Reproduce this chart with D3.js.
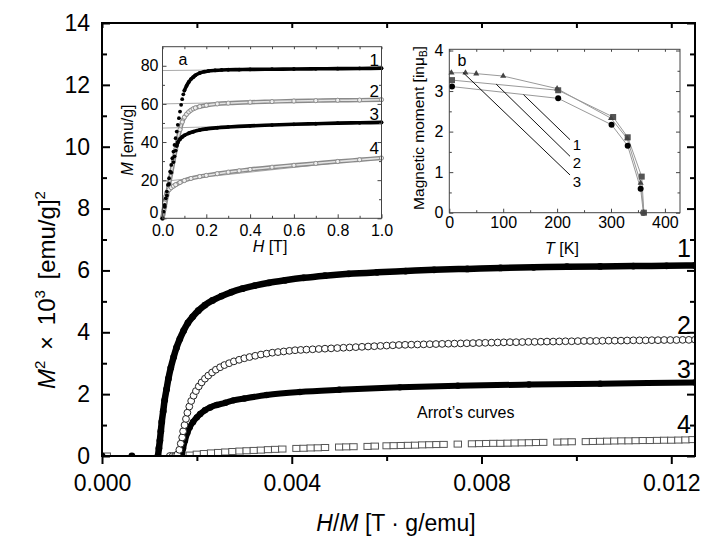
<!DOCTYPE html>
<html>
<head>
<meta charset="utf-8">
<script src="https://cdn.jsdelivr.net/npm/d3@7"></script>
<style>
  body { margin: 0; background: #fff; }
  svg { display: block; font-family: "Liberation Sans", Arial, sans-serif; }
</style>
</head>
<body>
<script>
'use strict';

// ---- main Arrott plot: H/M in 1e-4 T·g/emu, M^2 in 1e3 (emu/g)^2 ----
var c1HM = [0, 6.3, 11.8, 12.0, 12.2, 12.4, 12.6, 12.9, 13.2, 13.6, 14.0, 14.5,
  15.1, 15.7, 16.4, 17.2, 18.1, 19.1, 20.3, 21.7, 23.3, 25.2, 27.3, 29.6,
  32.2, 35.2, 38.6, 42.5, 47, 52, 58, 64, 70, 77, 84, 91, 98, 105, 112, 119, 125];
var c1M2 = [0, 0, 0, 0.25, 0.5, 0.8, 1.1, 1.45, 1.8, 2.15, 2.5, 2.85,
  3.2, 3.5, 3.78, 4.05, 4.3, 4.5, 4.7, 4.88, 5.03, 5.17, 5.3, 5.41,
  5.51, 5.6, 5.68, 5.76, 5.83, 5.89, 5.94, 5.98, 6.02, 6.05, 6.08, 6.1, 6.12, 6.13, 6.14, 6.15, 6.16];

var c2HM = [14.3, 14.9, 15.4, 15.9, 16.3, 16.6, 16.9, 17.1, 17.4, 17.7,
  18.0, 18.4, 18.8, 19.3, 19.8, 20.4, 21.0, 21.7, 22.4, 23.2,
  24.0, 24.9, 25.8, 26.8, 27.8, 28.9, 30.0, 31.1, 32.3, 33.5,
  34.7, 35.9, 37.1, 38.3, 39.5, 40.7, 41.9,
  43.1, 44.4, 45.7, 47.0, 48.3, 49.6, 50.9, 52.2, 53.5, 54.8,
  56.1, 57.4, 58.7, 60.0, 61.3, 62.6, 63.9, 65.2, 66.5, 67.8,
  69.1, 70.4, 71.7, 73.0, 74.3, 75.6, 76.9, 78.2, 79.5, 80.8,
  82.1, 83.4, 84.7, 86.0, 87.3, 88.6, 89.9, 91.2, 92.5, 93.8,
  95.1, 96.4, 97.7, 99.0, 100.3, 101.6, 102.9, 104.2, 105.5, 106.8,
  108.1, 109.4, 110.7, 112.0, 113.3, 114.6, 115.9, 117.2, 118.5, 119.8,
  121.1, 122.4, 123.7, 125.0];
var c2M2 = [0, 0, 0, 0.05, 0.2, 0.4, 0.6, 0.8, 1.0, 1.2,
  1.4, 1.6, 1.78, 1.95, 2.1, 2.25, 2.38, 2.5, 2.6, 2.7,
  2.79, 2.87, 2.94, 3.0, 3.06, 3.11, 3.16, 3.2, 3.24, 3.28,
  3.31, 3.34, 3.36, 3.38, 3.4, 3.42, 3.43,
  3.44, 3.45, 3.46, 3.47, 3.48, 3.49, 3.50, 3.51, 3.52, 3.53,
  3.54, 3.55, 3.56, 3.57, 3.58, 3.59, 3.595, 3.60, 3.605, 3.61,
  3.615, 3.62, 3.625, 3.63, 3.635, 3.64, 3.645, 3.65, 3.655, 3.66,
  3.665, 3.67, 3.675, 3.68, 3.68, 3.685, 3.69, 3.69, 3.695, 3.70,
  3.70, 3.705, 3.71, 3.71, 3.715, 3.72, 3.72, 3.72, 3.725, 3.73,
  3.73, 3.73, 3.735, 3.74, 3.74, 3.74, 3.745, 3.745, 3.75, 3.75,
  3.75, 3.755, 3.755, 3.76];

var c3HM = [16.8, 17.1, 17.5, 18.0, 18.5, 19.2, 20, 20.7, 21.7, 22.8, 24.2,
  26, 27.7, 30, 34.7, 41.7, 50, 62.8, 75, 90, 105, 125];
var c3M2 = [0, 0.25, 0.5, 0.75, 0.93, 1.1, 1.25, 1.36, 1.48, 1.57, 1.65,
  1.72, 1.8, 1.86, 1.97, 2.07, 2.14, 2.22, 2.27, 2.31, 2.34, 2.38];

var c4HM = [1, 18.5, 20, 21.5, 23, 24.5, 26, 27.5, 29, 30.5,
  32, 33.5, 35, 36.5, 38, 41, 42.5, 44, 45.5, 47,
  50, 51.5, 53, 56, 57.5, 60, 61.5, 63, 64.5, 66,
  67.5, 69, 70.5, 72, 75, 78, 79.5, 81, 82.5, 84,
  85.5, 87, 88.5, 90, 91.5, 93, 96, 97.5, 99, 102,
  103.5, 105, 106.5, 108, 109.5, 111, 112.5, 114, 115.5, 117,
  118.5, 120, 121.5, 123, 124.5];
var c4M2 = [0, 0.03, 0.06, 0.08, 0.1, 0.115, 0.13, 0.145, 0.16, 0.17,
  0.18, 0.19, 0.205, 0.215, 0.225, 0.245, 0.25, 0.26, 0.265, 0.275,
  0.29, 0.295, 0.30, 0.31, 0.32, 0.33, 0.335, 0.34, 0.345, 0.35,
  0.36, 0.365, 0.37, 0.375, 0.385, 0.395, 0.40, 0.405, 0.41, 0.41,
  0.415, 0.42, 0.425, 0.43, 0.435, 0.44, 0.45, 0.455, 0.46, 0.465,
  0.47, 0.475, 0.48, 0.485, 0.49, 0.49, 0.495, 0.50, 0.50, 0.505,
  0.51, 0.51, 0.515, 0.52, 0.53];

var mainXTicks = [0, 0.004, 0.008, 0.012];
var mainXMinor = [0.002, 0.006, 0.010];
var mainYTicks = [0, 2, 4, 6, 8, 10, 12, 14];
var mainYMinor = [1, 3, 5, 7, 9, 11, 13];
var curveLabels = ['1', '2', '3', '4'];
var curveLabelY = [6.72, 4.25, 2.8, 1.05];

// ---- inset a: M(H) ----
var a1H = [0, 0.005, 0.01, 0.015, 0.02, 0.025, 0.03, 0.035, 0.04, 0.045, 0.05, 0.055, 0.06, 0.065,
  0.07, 0.075, 0.08, 0.085, 0.09, 0.095, 0.1, 0.11, 0.12, 0.13, 0.14, 0.15, 0.17, 0.19, 0.21, 0.24,
  0.27, 0.3, 0.35, 0.4, 0.5, 0.6, 0.7, 0.8, 0.9, 1.0];
var a1M = [0, 3.5, 7, 10.5, 14, 17.5, 21, 24.5, 28, 31.5, 35, 38.5, 42, 45.5,
  49, 52.5, 56, 59.5, 62.5, 65, 67, 69.5, 71.5, 73, 74, 75, 76.2, 76.9, 77.3, 77.6,
  77.8, 77.9, 78.0, 78.1, 78.2, 78.3, 78.4, 78.5, 78.6, 78.7];
var a2H = [0, 0.01, 0.02, 0.03, 0.04, 0.05, 0.06, 0.07, 0.08, 0.09, 0.1, 0.11, 0.12, 0.13,
  0.14, 0.15, 0.17, 0.2, 0.25, 0.3, 0.4, 0.5, 0.6, 0.7, 0.8, 0.9, 1.0];
var a2M = [0, 6, 12, 18, 24, 30, 36, 41.5, 46.5, 50.5, 53, 54.6, 55.8, 56.7,
  57.4, 57.9, 58.6, 59.3, 60, 60.4, 60.9, 61.2, 61.5, 61.7, 61.9, 62.0, 62.2];
var a3H = [0, 0.01, 0.02, 0.03, 0.04, 0.05, 0.055, 0.06, 0.065, 0.07, 0.08, 0.09, 0.1,
  0.12, 0.14, 0.17, 0.2, 0.25, 0.3, 0.4, 0.5, 0.6, 0.7, 0.8, 0.9, 1.0];
var a3M = [0, 6, 12, 18, 24, 29.5, 32.5, 35.5, 38, 39.8, 41.5, 42.7, 43.5,
  44.6, 45.4, 46.3, 46.9, 47.5, 47.9, 48.5, 48.9, 49.3, 49.6, 49.9, 50.1, 50.3];
var a4H = [0, 0.005, 0.01, 0.015, 0.02, 0.03, 0.04, 0.05, 0.06, 0.08, 0.1, 0.13,
  0.17, 0.2, 0.25, 0.3, 0.35, 0.4, 0.5, 0.6, 0.7, 0.8, 0.9, 1.0];
var a4M = [0, 4, 8, 11.5, 13.5, 15, 16.1, 16.9, 17.6, 18.8, 19.8, 20.9,
  21.9, 22.5, 23.4, 24.2, 24.9, 25.6, 26.8, 27.8, 28.8, 29.8, 30.7, 31.6];
// linear high-field fits, M at H = 0 and H = 1 T
var fitM0 = [77.5, 60, 47.3, 19.3];
var fitM1 = [78.7, 62.2, 50.3, 31.6];
var aLabelM = [83, 67, 55, 37];
var aXTicks = [0, 0.2, 0.4, 0.6, 0.8, 1.0];
var aXMinor = [0.1, 0.3, 0.5, 0.7, 0.9];
var aYTicks = [0, 20, 40, 60, 80];
var aYMinor = [10, 30, 50, 70];

// ---- inset b: moment vs T ----
var triT = [4, 30, 50, 100, 200, 300, 330, 355, 361];
var triMom = [3.45, 3.45, 3.43, 3.37, 3.06, 2.33, 1.83, 0.73, 0];
var sqT = [5, 202, 304, 331, 357, 361];
var sqMom = [3.27, 3.02, 2.36, 1.86, 0.89, 0];
var circT = [5, 202, 301, 331, 355, 360];
var circMom = [3.11, 2.82, 2.17, 1.65, 0.59, 0];
var leadStart = [[137.7, 2.91], [87, 3.17], [25.3, 3.46]];
var leadEnd = [[224, 1.8], [224, 1.39], [224, 0.93]];
var leadLabels = ['1', '2', '3'];
var leadLabelY = [1.68, 1.24, 0.77];
var bXTicks = [0, 100, 200, 300, 400];
var bXMinor = [50, 150, 250, 350];
var bYTicks = [0, 1, 2, 3, 4];
var bYMinor = [0.5, 1.5, 2.5, 3.5];

function zip(xs, ys) {
  return xs.map(function (v, i) { return [v, ys[i]]; });
}

function addAxis(g, gen, vals, size, pad, fmt, style) {
  var a = g.append('g').call(gen.tickValues(vals).tickSize(size).tickPadding(pad).tickFormat(fmt));
  a.select('.domain').remove();
  a.attr('font-family', null).attr('font-size', style.font);
  a.selectAll('.tick line').attr('stroke', style.color).attr('stroke-width', style.width);
  a.selectAll('.tick text').attr('fill', '#000');
  return a;
}

function frameAxes(g, xs, ys, o) {
  var x0 = xs.range()[0], x1 = xs.range()[1], y0 = ys.range()[0], y1 = ys.range()[1];
  var st = { font: o.font, color: o.color, width: o.width };
  var none = function () { return ''; };
  var axes = {};
  axes.bottom = addAxis(g.append('g').attr('transform', 'translate(0,' + y0 + ')'), d3.axisBottom(xs), o.xt, o.xOut ? o.big : -o.big, o.xPad, o.xFmt, st);
  addAxis(g.append('g').attr('transform', 'translate(0,' + y0 + ')'), d3.axisBottom(xs), o.xm, o.xOut ? o.small : -o.small, 0, none, st);
  addAxis(g.append('g').attr('transform', 'translate(0,' + y1 + ')'), d3.axisTop(xs), o.xt.concat(o.xm), -o.small, 0, none, st);
  axes.left = addAxis(g.append('g').attr('transform', 'translate(' + x0 + ',0)'), d3.axisLeft(ys), o.yt, -o.big, o.yPad, o.yFmt, st);
  addAxis(g.append('g').attr('transform', 'translate(' + x0 + ',0)'), d3.axisLeft(ys), o.ym, -o.small, 0, none, st);
  addAxis(g.append('g').attr('transform', 'translate(' + x1 + ',0)'), d3.axisRight(ys), o.yt, -o.big, 0, none, st);
  addAxis(g.append('g').attr('transform', 'translate(' + x1 + ',0)'), d3.axisRight(ys), o.ym, -o.small, 0, none, st);
  g.append('rect').attr('x', x0).attr('y', y1).attr('width', x1 - x0).attr('height', y0 - y1)
    .attr('fill', 'none').attr('stroke', o.color).attr('stroke-width', o.frame);
  return axes;
}

var W = 706, H = 540;
var svg = d3.select('body').append('svg').attr('width', W).attr('height', H);

// ================= main plot =================
var x = d3.scaleLinear().domain([0, 0.0125]).range([102, 695]);
var y = d3.scaleLinear().domain([0, 14]).range([456, 23]);
var hx = function (d) { return x(d[0] * 1e-4); };
var hy = function (d) { return y(d[1]); };

svg.append('clipPath').attr('id', 'mainClip').append('rect')
  .attr('x', 102).attr('y', 23).attr('width', 593).attr('height', 433);
var plot = svg.append('g').attr('clip-path', 'url(#mainClip)');

var lineMain = d3.line().x(hx).y(hy).curve(d3.curveMonotoneX);

// curve 4: open squares
plot.append('g').selectAll('rect').data(zip(c4HM, c4M2)).join('rect')
  .attr('x', function (d) { return hx(d) - 3.7; })
  .attr('y', function (d) { return hy(d) - 3; })
  .attr('width', 7.4).attr('height', 6)
  .attr('fill', '#fff').attr('stroke', '#555').attr('stroke-width', 1);

// curve 3: filled circles (dense, drawn as thick trace + dots)
var c3 = zip(c3HM, c3M2);
plot.append('path').datum(c3).attr('d', lineMain)
  .attr('fill', 'none').attr('stroke', '#000').attr('stroke-width', 6).attr('stroke-linejoin', 'round');
plot.append('g').selectAll('circle').data(c3).join('circle')
  .attr('cx', hx).attr('cy', hy).attr('r', 3.2).attr('fill', '#000');

// curve 2: open circles
plot.append('g').selectAll('circle').data(zip(c2HM, c2M2)).join('circle')
  .attr('cx', hx).attr('cy', hy).attr('r', 3.4)
  .attr('fill', '#fff').attr('stroke', '#222').attr('stroke-width', 1);

// curve 1: filled circles
var c1 = zip(c1HM, c1M2);
plot.append('path').datum(c1.filter(function (d) { return d[0] >= 11.8; })).attr('d', lineMain)
  .attr('fill', 'none').attr('stroke', '#000').attr('stroke-width', 6.5).attr('stroke-linejoin', 'round');
plot.append('g').selectAll('circle').data(c1).join('circle')
  .attr('cx', hx).attr('cy', hy).attr('r', 3.4).attr('fill', '#000');

frameAxes(svg.append('g'), x, y, {
  xt: mainXTicks, xm: mainXMinor, yt: mainYTicks, ym: mainYMinor,
  big: 8, small: 5, xOut: true, xPad: 11, yPad: 12,
  xFmt: d3.format('.3f'), yFmt: d3.format('d'),
  font: 23, color: '#000', width: 2, frame: 2
});

// curve labels
svg.append('g').selectAll('text').data(curveLabels).join('text')
  .attr('x', 691).attr('y', function (d, i) { return y(curveLabelY[i]); })
  .attr('dy', '0.36em').attr('text-anchor', 'end').attr('font-size', 25).text(function (d) { return d; });

svg.append('text').attr('x', 417).attr('y', 418).attr('font-size', 16).text('Arrot\u2019s curves');

// axis titles
var xt = svg.append('text').attr('x', 396).attr('y', 531).attr('text-anchor', 'middle').attr('font-size', 23);
xt.append('tspan').attr('font-style', 'italic').text('H');
xt.append('tspan').text('/');
xt.append('tspan').attr('font-style', 'italic').text('M');
xt.append('tspan').text(' [T \u00b7 g/emu]');

var yt = svg.append('text').attr('transform', 'translate(55,290) rotate(-90)')
  .attr('text-anchor', 'middle').attr('font-size', 24).attr('word-spacing', 4);
yt.append('tspan').attr('font-style', 'italic').text('M');
yt.append('tspan').attr('font-size', 15).attr('dy', -10).text('2');
yt.append('tspan').attr('dy', 10).text(' \u00d7 10');
yt.append('tspan').attr('font-size', 15).attr('dy', -10).text('3');
yt.append('tspan').attr('dy', 10).text(' [emu/g]');
yt.append('tspan').attr('font-size', 15).attr('dy', -10).text('2');

// ================= inset a =================
var ax = d3.scaleLinear().domain([0, 1]).range([162.5, 381.5]);
var ay = d3.scaleLinear().domain([0, 90]).range([218.3, 46.7]);
var ga = svg.append('g');
ga.append('rect').attr('x', 162.5).attr('y', 46.7).attr('width', 219).attr('height', 171.6).attr('fill', '#fff');
var lineA = d3.line().x(function (d) { return ax(d[0]); }).y(function (d) { return ay(d[1]); }).curve(d3.curveMonotoneX);

ga.append('g').selectAll('line').data(fitM0).join('line')
  .attr('x1', ax(0)).attr('x2', ax(1))
  .attr('y1', function (d) { return ay(d); })
  .attr('y2', function (d, i) { return ay(fitM1[i]); })
  .attr('stroke', '#aaa').attr('stroke-width', 1);

[[a2H, a2M], [a4H, a4M]].forEach(function (s) {
  var pts = zip(s[0], s[1]);
  ga.append('path').datum(pts).attr('d', lineA).attr('fill', 'none').attr('stroke', '#8a8a8a').attr('stroke-width', 4.4);
  ga.append('path').datum(pts).attr('d', lineA).attr('fill', 'none').attr('stroke', '#e4e4e4').attr('stroke-width', 1.6);
  ga.append('g').selectAll('circle').data(pts).join('circle')
    .attr('cx', function (d) { return ax(d[0]); }).attr('cy', function (d) { return ay(d[1]); })
    .attr('r', 2.1).attr('fill', '#eee').attr('stroke', '#888').attr('stroke-width', 0.9);
});
[[a1H, a1M, 0.1], [a3H, a3M, 0.065]].forEach(function (s) {
  var pts = zip(s[0], s[1]);
  ga.append('path').datum(pts.filter(function (d) { return d[0] >= s[2]; })).attr('d', lineA)
    .attr('fill', 'none').attr('stroke', '#000').attr('stroke-width', 3.6).attr('stroke-linecap', 'round');
  ga.append('g').selectAll('circle').data(pts).join('circle')
    .attr('cx', function (d) { return ax(d[0]); }).attr('cy', function (d) { return ay(d[1]); })
    .attr('r', 1.9).attr('fill', '#000');
});

var axesA = frameAxes(ga, ax, ay, {
  xt: aXTicks, xm: aXMinor, yt: aYTicks, ym: aYMinor,
  big: 4, small: 2.5, xOut: false, xPad: 6, yPad: 4,
  xFmt: d3.format('.1f'), yFmt: d3.format('d'),
  font: 16, color: '#444', width: 1, frame: 1
});
// the y "0" sits just above the corner, clear of the "0.0" below it
axesA.left.selectAll('.tick text').filter(function (d) { return d === 0; }).attr('dy', '-0.05em');

ga.append('text').attr('x', 183).attr('y', 59).attr('dy', '0.35em').attr('text-anchor', 'middle').attr('font-size', 16).text('a');
ga.append('g').selectAll('text').data(curveLabels).join('text')
  .attr('x', 379).attr('y', function (d, i) { return ay(aLabelM[i]); })
  .attr('dy', '0.36em').attr('text-anchor', 'end').attr('font-size', 17).text(function (d) { return d; });
var axt = ga.append('text').attr('x', 270).attr('y', 252).attr('text-anchor', 'middle').attr('font-size', 16);
axt.append('tspan').attr('font-style', 'italic').text('H');
axt.append('tspan').text(' [T]');
var ayt = ga.append('text').attr('transform', 'translate(133,140) rotate(-90)').attr('text-anchor', 'middle').attr('font-size', 16);
ayt.append('tspan').attr('font-style', 'italic').text('M');
ayt.append('tspan').text(' [emu/g]');

// ================= inset b =================
var bx = d3.scaleLinear().domain([0, 428]).range([449.3, 680]);
var by = d3.scaleLinear().domain([0, 4.03]).range([212.7, 49.3]);
var gb = svg.append('g');
gb.append('rect').attr('x', 449.3).attr('y', 49.3).attr('width', 230.7).attr('height', 163.4).attr('fill', '#fff');
var lineB = d3.line().x(function (d) { return bx(d[0]); }).y(function (d) { return by(d[1]); });

var tri = zip(triT, triMom), sq = zip(sqT, sqMom), circ = zip(circT, circMom);
[tri, sq, circ].forEach(function (pts) {
  gb.append('path').datum(pts).attr('d', lineB).attr('fill', 'none').attr('stroke', '#999').attr('stroke-width', 1);
});
gb.append('g').selectAll('circle').data(circ).join('circle')
  .attr('cx', function (d) { return bx(d[0]); }).attr('cy', function (d) { return by(d[1]); })
  .attr('r', 3).attr('fill', '#000');
gb.append('g').selectAll('rect').data(sq).join('rect')
  .attr('x', function (d) { return bx(d[0]) - 3; }).attr('y', function (d) { return by(d[1]) - 3; })
  .attr('width', 6).attr('height', 6).attr('fill', '#555');
gb.append('g').selectAll('path').data(tri).join('path')
  .attr('transform', function (d) { return 'translate(' + bx(d[0]) + ',' + by(d[1]) + ')'; })
  .attr('d', d3.symbol(d3.symbolTriangle, 16)).attr('fill', '#444');

gb.append('g').selectAll('line').data(leadStart).join('line')
  .attr('x1', function (d) { return bx(d[0]); }).attr('y1', function (d) { return by(d[1]); })
  .attr('x2', function (d, i) { return bx(leadEnd[i][0]); }).attr('y2', function (d, i) { return by(leadEnd[i][1]); })
  .attr('stroke', '#111').attr('stroke-width', 1);
gb.append('g').selectAll('text').data(leadLabels).join('text')
  .attr('x', bx(229)).attr('y', function (d, i) { return by(leadLabelY[i]); })
  .attr('dy', '0.36em').attr('font-size', 15).text(function (d) { return d; });

frameAxes(gb, bx, by, {
  xt: bXTicks, xm: bXMinor, yt: bYTicks, ym: bYMinor,
  big: 4, small: 2.5, xOut: false, xPad: 4, yPad: 6,
  xFmt: d3.format('d'), yFmt: d3.format('d'),
  font: 16, color: '#444', width: 1, frame: 1
});
gb.append('text').attr('x', 462).attr('y', 60).attr('dy', '0.35em').attr('text-anchor', 'middle').attr('font-size', 16).text('b');
var bxt = gb.append('text').attr('x', 562).attr('y', 254).attr('text-anchor', 'middle').attr('font-size', 16);
bxt.append('tspan').attr('font-style', 'italic').text('T');
bxt.append('tspan').text(' [K]');
var byt = gb.append('text').attr('transform', 'translate(424,128) rotate(-90)').attr('text-anchor', 'middle').attr('font-size', 15.5);
byt.append('tspan').text('Magnetic moment [in\u03bc');
byt.append('tspan').attr('font-size', 10).attr('dy', 3).text('B');
byt.append('tspan').attr('dy', -3).text(']');
</script>
</body>
</html>
